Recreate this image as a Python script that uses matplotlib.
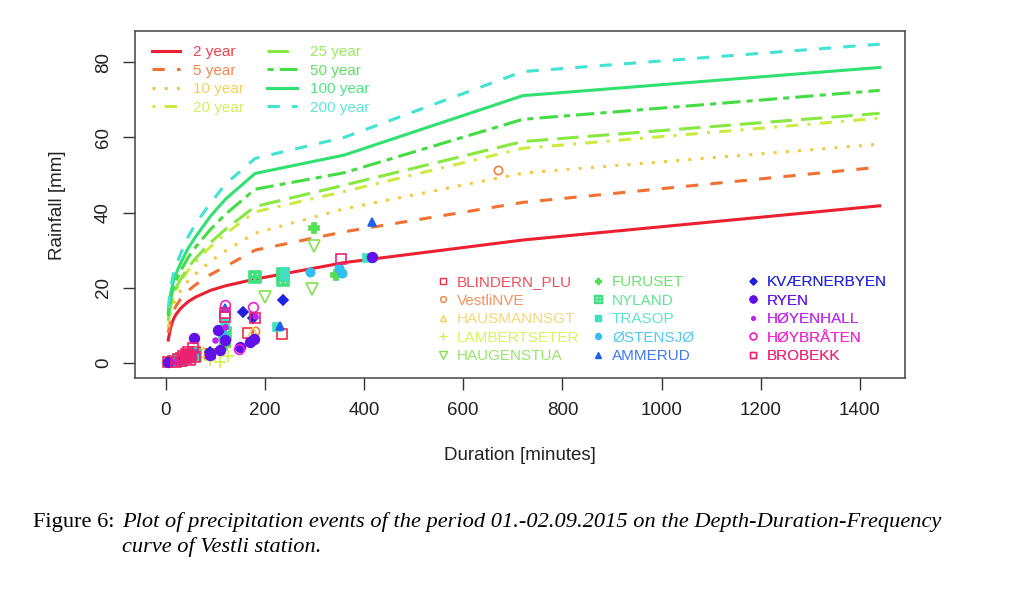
import matplotlib

matplotlib.use("Agg")
import matplotlib.pyplot as plt
from matplotlib.lines import Line2D

# -- DDF curves (Vestli) --
durations = [5, 10, 15, 20, 30, 45, 60, 90, 120, 180, 360, 720, 1440]
return_periods = ["2 year", "5 year", "10 year", "20 year", "25 year", "50 year", "100 year", "200 year"]
ddf_2 = [6.1, 9.5, 11.5, 12.8, 14.5, 16.3, 17.5, 19.3, 20.5, 22.3, 26.7, 32.7, 41.8]
ddf_5 = [8.0, 11.5, 13.6, 15.0, 17.0, 19.2, 20.8, 23.5, 25.6, 30.0, 34.9, 42.7, 52.1]
ddf_10 = [9.5, 13.3, 15.5, 17.0, 19.2, 21.8, 23.7, 27.0, 29.8, 34.5, 41.0, 50.5, 58.2]
ddf_20 = [11.0, 15.0, 17.5, 19.2, 21.6, 24.6, 26.9, 30.9, 34.3, 40.2, 45.6, 57.1, 65.1]
ddf_25 = [11.3, 15.5, 18.0, 19.8, 22.3, 25.4, 27.8, 32.0, 35.5, 41.6, 47.3, 58.9, 66.4]
ddf_50 = [12.5, 17.0, 19.8, 21.7, 24.5, 28.0, 30.8, 35.5, 39.5, 46.2, 50.6, 64.8, 72.5]
ddf_100 = [13.5, 18.5, 21.5, 23.5, 26.5, 30.5, 33.5, 39.0, 43.5, 50.4, 55.3, 71.1, 78.6]
ddf_200 = [14.5, 20.0, 23.5, 25.8, 29.0, 33.5, 37.0, 42.5, 47.5, 54.4, 60.0, 77.5, 84.8]
ddf_curves = [ddf_2, ddf_5, ddf_10, ddf_20, ddf_25, ddf_50, ddf_100, ddf_200]

# -- observed events per station (duration [min], rainfall [mm]) --
stations = ["BLINDERN_PLU", "VestliNVE", "HAUSMANNSGT", "LAMBERTSETER", "HAUGENSTUA",
            "FURUSET", "NYLAND", "TRASOP", "ØSTENSJØ", "AMMERUD",
            "KVÆRNERBYEN", "RYEN", "HØYENHALL", "HØYBRÅTEN", "BROBEKK"]
blindern_x = [5, 15, 30, 45, 60, 90, 120, 165, 235]
blindern_y = [0.2, 0.4, 1.3, 2.2, 3.0, 2.5, 5.5, 8.0, 7.6]
vestli_x = [10, 20, 35, 60, 120, 180, 670]
vestli_y = [0.3, 0.8, 1.8, 3.2, 7.0, 8.6, 51.3]
hausmann_x = [10, 30, 50, 75, 120, 175]
hausmann_y = [0.2, 0.6, 1.6, 2.8, 5.5, 8.3]
lambert_x = [15, 40, 60, 90, 110, 125]
lambert_y = [0.3, 0.5, 1.2, 0.8, 0.3, 1.8]
haugen_x = [25, 60, 120, 200, 295, 300]
haugen_y = [0.5, 1.8, 4.5, 17.5, 19.7, 31.0]
furuset_x = [20, 45, 60, 120, 300, 343]
furuset_y = [0.4, 1.3, 2.0, 5.0, 36.0, 23.3]
nyland_x = [30, 60, 120, 180, 237, 237]
nyland_y = [0.8, 2.2, 8.0, 22.8, 23.6, 22.2]
trasop_x = [20, 50, 120, 225, 240, 240, 405]
trasop_y = [0.6, 1.6, 10.5, 9.5, 24.2, 23.0, 27.8]
ostensjo_x = [10, 40, 60, 115, 290, 350, 355]
ostensjo_y = [0.2, 1.0, 3.0, 7.5, 24.3, 25.2, 24.0]
ammerud_x = [25, 55, 120, 230, 415]
ammerud_y = [0.7, 2.0, 14.5, 9.8, 37.5]
kvaerner_x = [30, 89, 156, 176, 237]
kvaerner_y = [0.9, 3.0, 13.6, 11.9, 16.8]
ryen_x = [5, 40, 58, 90, 105, 110, 120, 150, 170, 178, 415]
ryen_y = [0.3, 1.5, 6.6, 2.0, 8.8, 3.4, 6.0, 4.2, 5.5, 6.5, 28.3]
hoyenhall_x = [20, 50, 100, 120, 180]
hoyenhall_y = [0.5, 2.5, 6.0, 9.5, 12.5]
hoybraten_x = [45, 119, 148, 175]
hoybraten_y = [1.8, 15.4, 3.6, 15.0]
brobekk_x = [20, 25, 30, 35, 40, 42, 45, 48, 50, 55, 60, 120, 120, 180, 354]
brobekk_y = [0.3, 1.0, 0.5, 1.8, 2.5, 1.2, 3.0, 0.8, 2.0, 4.0, 1.5, 12.3, 13.3, 12.0, 27.6]
station_x = [blindern_x, vestli_x, hausmann_x, lambert_x, haugen_x, furuset_x, nyland_x, trasop_x,
             ostensjo_x, ammerud_x, kvaerner_x, ryen_x, hoyenhall_x, hoybraten_x, brobekk_x]
station_y = [blindern_y, vestli_y, hausmann_y, lambert_y, haugen_y, furuset_y, nyland_y, trasop_y,
             ostensjo_y, ammerud_y, kvaerner_y, ryen_y, hoyenhall_y, hoybraten_y, brobekk_y]

# 样式 (R rainbow(15) 风格)
curve_colors = ["#EC2030", "#F27030", "#F4C840", "#CCEA40", "#86E840", "#44DC44", "#30E070", "#40E4D0"]
curve_styles = ["-", (0, (4, 4)), (0, (1, 3)), (0, (1, 3, 4, 3)), (0, (7, 3)), (0, (2, 2, 6, 2)), "-", (0, (4, 4))]
st_colors = ["#EC3040", "#F08040", "#F2D060", "#D4F040", "#86E050", "#50E050", "#40E080", "#40E0C0",
             "#30C0F0", "#2060F0", "#2020E0", "#6010E8", "#C020F0", "#F020D0", "#F02070"]
st_markers = ["s", "o", "^", "+", "v", "P", r"$\boxplus$", "s", "o", "^", "D", "o", ".", "o", "s"]
st_filled = [False, False, False, True, False, True, True, True, True, True, True, True, True, False, False]
st_sizes = [7, 6, 7, 8, 8, 7, 8, 6, 6, 6, 5, 7, 7, 7, 7]

plt.rcParams["font.family"] = ["Liberation Sans", "DejaVu Sans"]
W, H = 1024, 603
fig = plt.figure(figsize=(W / 100, H / 100), dpi=100)
ax = fig.add_axes([135 / W, 1 - 378 / H, 770 / W, 347 / H])

for vals, c, ls in zip(ddf_curves, curve_colors, curve_styles):
    ax.plot(durations, vals, color=c, linestyle=ls, linewidth=2.2)

for xs, ys, c, m, f, s in zip(station_x, station_y, st_colors, st_markers, st_filled, st_sizes):
    ax.plot(xs, ys, linestyle="none", marker=m, markersize=s, color=c,
            markerfacecolor=c if f else "none", markeredgewidth=1.2)

ax.set_xlim(-62, 1491)
ax.set_ylim(-4.0, 88.3)
ax.set_xticks(range(0, 1401, 200))
ax.set_yticks(range(0, 81, 20))
ax.tick_params(axis="both", direction="out", length=8.5, width=1, color="#333333",
               labelsize=13.5, labelcolor="#222222")
ax.tick_params(axis="x", pad=9)
ax.tick_params(axis="y", pad=8, labelrotation=90)
for t in ax.get_yticklabels():
    t.set_va("center")
for sp in ax.spines.values():
    sp.set_color("#444444")
    sp.set_linewidth(1.1)

fig.text(57 / W, 1 - 205 / H, "Rainfall [mm]", rotation=90, ha="center", va="center",
         fontsize=13.5, color="#222222")
fig.text(520 / W, 1 - 456 / H, "Duration [minutes]", ha="center", va="center",
         fontsize=13.5, color="#222222")


def legend_column(handles, labels, colors, x_px, y_px, hlen, hpad):
    # 每一列单独一个图例, 便于精确摆放
    leg = ax.legend(handles, labels, loc="upper left", bbox_to_anchor=(x_px / W, 1 - y_px / H),
                    bbox_transform=fig.transFigure, frameon=False, borderpad=0, borderaxespad=0,
                    handlelength=hlen, handletextpad=hpad, labelspacing=0.3, fontsize=11)
    for txt, c in zip(leg.get_texts(), colors):
        txt.set_color(c)
        txt.set_alpha(0.85)
    ax.add_artist(leg)


# return period legend
line_handles = [Line2D([], [], color=c, linestyle=ls, linewidth=2.2) for c, ls in zip(curve_colors, curve_styles)]
legend_column(line_handles[:4], return_periods[:4], curve_colors[:4], 152, 45, 1.85, 0.85)
legend_column(line_handles[4:], return_periods[4:], curve_colors[4:], 267, 45, 1.95, 0.85)

# station legend
pt_handles = [Line2D([], [], linestyle="none", marker=m, markersize=s * 0.7, color=c,
                     markerfacecolor=c if f else "none", markeredgewidth=1)
              for c, m, f, s in zip(st_colors, st_markers, st_filled, st_sizes)]
for k, x0 in enumerate([438, 593, 748]):
    sl = slice(5 * k, 5 * k + 5)
    legend_column(pt_handles[sl], stations[sl], st_colors[sl], x0, 275, 0.65, 0.6)

# caption
fig.text(33 / W, 1 - 522 / H, "Figure 6:", family="Liberation Serif", fontsize=16.1, va="center")
fig.text(122 / W, 1 - 522 / H,
         "Plot of precipitation events of the period 01.-02.09.2015 on the Depth-Duration-Frequency",
         family="Liberation Serif", style="italic", fontsize=16.1, va="center")
fig.text(122 / W, 1 - 547 / H, "curve of Vestli station.", family="Liberation Serif",
         style="italic", fontsize=16.1, va="center")

fig.savefig("out.png", dpi=100)
